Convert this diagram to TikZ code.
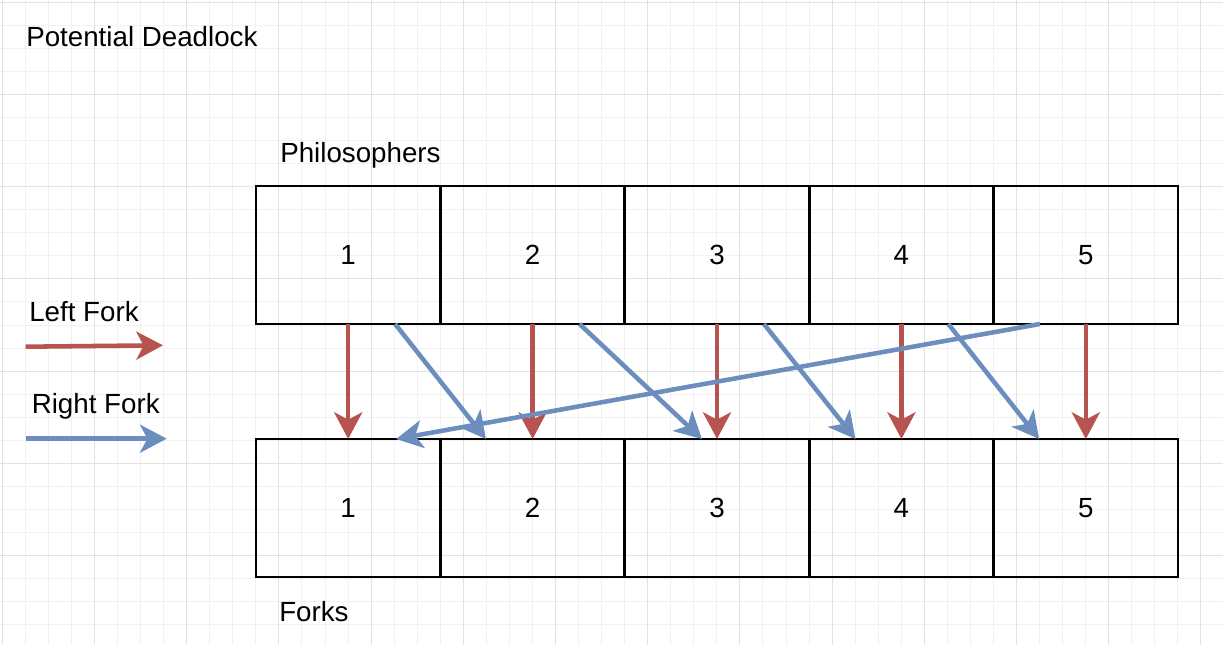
\documentclass[tikz,border=0pt]{standalone}
\usepackage{fontspec}
\setmainfont{Liberation Sans}
\usetikzlibrary{arrows.meta}

\begin{document}
\begin{tikzpicture}[x=0.75pt,y=0.75pt,yscale=-1,xscale=1,
  txt/.style={inner sep=0pt, font=\fontsize{20.8}{24}\selectfont},
  lbl/.style={txt, anchor=base west},
  box/.style={txt, draw, line width=2pt, minimum width=138.3pt, minimum height=103.5pt, outer sep=0pt},
  minorgrid/.style={color={rgb, 255:red, 241; green, 241; blue, 241 }, line width=0.75pt},
  majorgrid/.style={color={rgb, 255:red, 226; green, 226; blue, 226 }, line width=0.75pt},
  leftfork/.style={color={rgb, 255:red, 184; green, 84; blue, 80 }, line width=3.4pt, -{Stealth[length=20pt,width=21pt,inset=5.5pt]}},
  rightfork/.style={color={rgb, 255:red, 108; green, 142; blue, 191 }, line width=3.4pt, -{Stealth[length=20pt,width=21pt,inset=5.5pt]}}
]
\useasboundingbox (0,0) rectangle (1223,645);

%Grid
\foreach \i in {0,...,52} {\draw [minorgrid] ({2.3+23.05*\i},0) -- ({2.3+23.05*\i},645) ;}
\foreach \i in {0,...,27} {\draw [minorgrid] (0,{2.3+23.05*\i}) -- (1223,{2.3+23.05*\i}) ;}
\foreach \i in {0,4,...,52} {\draw [majorgrid] ({2.3+23.05*\i},0) -- ({2.3+23.05*\i},645) ;}
\foreach \i in {0,4,...,24} {\draw [majorgrid] (0,{2.3+23.05*\i}) -- (1223,{2.3+23.05*\i}) ;}

%Shape: Rectangle (philosophers)
\node [box] (p1) at (348.2,255) {1};
\node [box] (p2) at (532.6,255) {2};
\node [box] (p3) at (717,255) {3};
\node [box] (p4) at (901.4,255) {4};
\node [box] (p5) at (1085.8,255) {5};
%Shape: Rectangle (forks)
\node [box] (f1) at (348.2,508) {1};
\node [box] (f2) at (532.6,508) {2};
\node [box] (f3) at (717,508) {3};
\node [box] (f4) at (901.4,508) {4};
\node [box] (f5) at (1085.8,508) {5};

%Straight Lines (left forks)
\draw [leftfork] (p1.south) -- (f1.north) ;
\draw [leftfork] (p2.south) -- (f2.north) ;
\draw [leftfork] (p3.south) -- (f3.north) ;
\draw [leftfork] (p4.south) -- (f4.north) ;
\draw [leftfork] (p5.south) -- (f5.north) ;
%Straight Lines (right forks)
\draw [rightfork] ([xshift=35.2pt]p1.south) -- ([xshift=-35pt]f2.north) ;
\draw [rightfork] ([xshift=35.2pt]p2.south) -- ([xshift=-11.3pt]f3.north) ;
\draw [rightfork] ([xshift=35.2pt]p3.south) -- ([xshift=-34.5pt]f4.north) ;
\draw [rightfork] ([xshift=35.2pt]p4.south) -- ([xshift=-35pt]f5.north) ;
\draw [rightfork] ([xshift=-34.4pt]p5.south) -- ([xshift=35.9pt]f1.north) ;

%Legend
\coordinate (leftA) at (25.7,346.7) ;
\coordinate (leftB) at (163,345.3) ;
\coordinate (rightA) at (25.7,438.7) ;
\coordinate (rightB) at (166.7,438.7) ;
\draw [leftfork] (leftA) -- (leftB) ;
\draw [rightfork] (rightA) -- (rightB) ;

% Text Node
\node [lbl] (title) at (26,46.7) {Potential Deadlock};
% Text Node
\node [lbl] (philo) at (280,162.3) {Philosophers};
% Text Node
\node [lbl] (forks) at (279,621.7) {Forks};
% Text Node
\node [lbl] (leftlbl) at (29,321.7) {Left Fork};
% Text Node
\node [lbl] (rightlbl) at (31.5,413.3) {Right Fork};
\end{tikzpicture}
\end{document}
